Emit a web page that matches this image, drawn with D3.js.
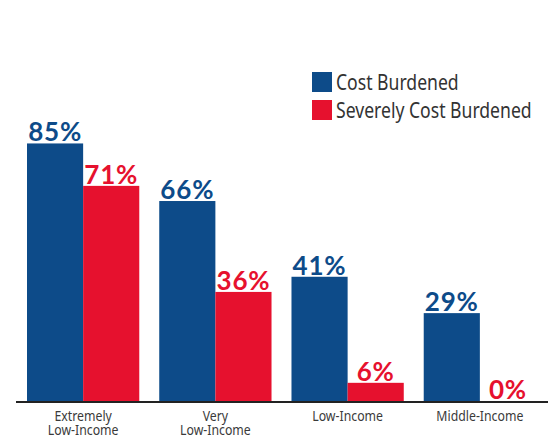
<!DOCTYPE html>
<html>
<head>
<meta charset="utf-8">
<script src="https://cdn.jsdelivr.net/npm/d3@7"></script>
<style>
  html, body { margin: 0; padding: 0; background: #fff; }
  svg { display: block; }
</style>
</head>
<body>
<svg id="chart" width="548" height="441"></svg>
<script>
// Share of renter households that are cost burdened, by income group
const categories = [["Extremely", "Low-Income"], ["Very", "Low-Income"], ["Low-Income"], ["Middle-Income"]];
const costBurdened = [85, 66, 41, 29];
const severelyCostBurdened = [71, 36, 6, 0];
const seriesNames = ["Cost Burdened", "Severely Cost Burdened"];
const seriesColors = ["#0d4b89", "#e6112e"];

const svg = d3.select("#chart");
const keys = categories.map(c => c.join(" "));
const baseY = 401;
const narrowFont = "'Noto Sans', 'DejaVu Sans Condensed', sans-serif";

const x = d3.scaleBand().domain(keys).range([27, 536]).paddingInner(0.151).paddingOuter(0);
const xSub = d3.scaleBand().domain([0, 1]).range([0, x.bandwidth()]);
const y = d3.scaleLinear().domain([0, 100]).range([baseY, baseY - 303]);

const rows = keys.map((k, i) => ({ key: k, values: [costBurdened[i], severelyCostBurdened[i]] }));

const groups = svg.selectAll("g.group").data(rows).join("g")
  .attr("class", "group")
  .attr("transform", d => `translate(${x(d.key)},0)`);

groups.selectAll("rect").data(d => d.values.map((v, s) => ({ v, s }))).join("rect")
  .attr("x", d => xSub(d.s))
  .attr("y", d => y(d.v))
  .attr("width", xSub.bandwidth())
  .attr("height", d => y(0) - y(d.v))
  .attr("fill", d => seriesColors[d.s]);

groups.selectAll("text.value").data(d => d.values.map((v, s) => ({ v, s }))).join("text")
  .attr("class", "value")
  .attr("x", d => xSub(d.s) + xSub.bandwidth() / 2)
  .attr("y", d => y(d.v) - 2)
  .attr("text-anchor", "middle")
  .attr("font-family", "Lato, 'Open Sans', sans-serif")
  .attr("font-weight", 700)
  .attr("font-size", 26)
  .attr("letter-spacing", 0.8)
  .attr("fill", d => seriesColors[d.s])
  .text(d => d.v + "%");

// baseline
svg.append("line")
  .attr("x1", 16).attr("x2", 548)
  .attr("y1", baseY + 1).attr("y2", baseY + 1)
  .attr("stroke", "#222").attr("stroke-width", 2);

// category labels, centred under each group, one condensed text per line
const lines = [];
categories.forEach((c, i) => c.forEach((t, j) => lines.push({ key: keys[i], t, j })));
svg.selectAll("g.cat").data(lines).join("g")
  .attr("class", "cat")
  .attr("transform", d => `translate(${x(d.key) + x.bandwidth() / 2},${421 + d.j * 13.5}) scale(0.82,1)`)
  .append("text")
  .attr("text-anchor", "middle")
  .attr("font-family", narrowFont)
  .attr("font-size", 15)
  .attr("fill", "#3a3a3a")
  .text(d => d.t);

// legend
const legend = svg.append("g").attr("transform", "translate(312,72)");
const items = legend.selectAll("g").data(seriesNames).join("g")
  .attr("transform", (d, i) => `translate(0,${i * 28})`);
items.append("rect")
  .attr("width", 20).attr("height", 20)
  .attr("fill", (d, i) => seriesColors[i]);
items.append("g")
  .attr("transform", "translate(24,18) scale(0.8,1)")
  .append("text")
  .attr("font-family", narrowFont)
  .attr("font-size", 22)
  .attr("fill", "#333")
  .text(d => d);
</script>
</body>
</html>
